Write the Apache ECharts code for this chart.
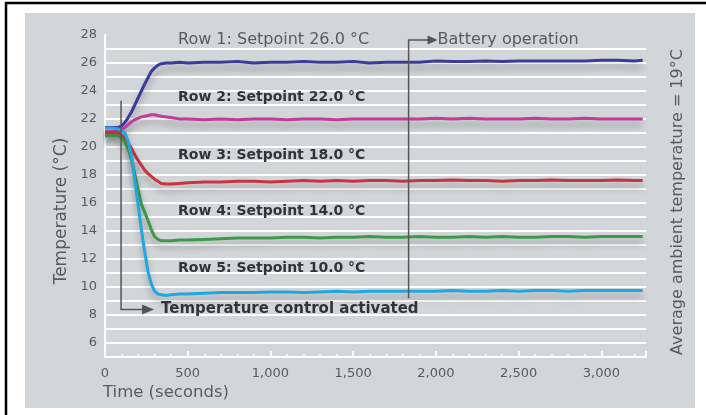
<!DOCTYPE html>
<html>
<head>
<meta charset="utf-8">
<script src="https://cdn.jsdelivr.net/npm/echarts@6/dist/echarts.min.js"></script>
<style>
  html, body { margin: 0; padding: 0; background: #fff; }
  #chart { width: 706px; height: 415px; }
</style>
</head>
<body>
<div id="chart"></div>
<script>
// time axis (seconds), shared by all rows
var times = [0, 40, 80, 100, 120, 140, 160, 180, 200, 220, 240, 260, 280, 300, 320, 340, 370, 400, 450, 500,
  600, 700, 800, 900, 1000, 1100, 1200, 1300, 1400, 1500, 1600, 1700, 1800, 1900, 2000, 2100, 2200, 2300,
  2400, 2500, 2600, 2700, 2800, 2900, 3000, 3100, 3200, 3250];

var row1 = [21.4, 21.4, 21.4, 21.5, 21.75, 22.1, 22.5, 23.0, 23.5, 24.0, 24.5, 24.95, 25.4, 25.65, 25.85, 25.95, 26.0, 26.0, 26.05, 26.0,
  26.05, 26.05, 26.1, 26.0, 26.05, 26.05, 26.1, 26.05, 26.05, 26.1, 26.0, 26.05, 26.05, 26.05, 26.15, 26.1, 26.1, 26.15,
  26.1, 26.15, 26.15, 26.15, 26.15, 26.15, 26.2, 26.2, 26.15, 26.2];
var row2 = [21.1, 21.1, 21.1, 21.2, 21.4, 21.6, 21.8, 21.95, 22.05, 22.15, 22.2, 22.25, 22.3, 22.3, 22.25, 22.2, 22.15, 22.1, 22.0, 22.0,
  21.95, 22.0, 21.95, 22.0, 22.0, 21.95, 22.0, 22.0, 21.95, 22.0, 22.0, 22.0, 22.0, 22.0, 22.05, 22.0, 22.05, 22.0,
  22.0, 22.0, 22.05, 22.0, 22.0, 22.05, 22.0, 22.0, 22.0, 22.0];
var row3 = [21.0, 21.0, 21.0, 20.85, 20.6, 20.3, 19.9, 19.45, 19.05, 18.7, 18.35, 18.1, 17.9, 17.7, 17.55, 17.4, 17.35, 17.35, 17.4, 17.45,
  17.5, 17.5, 17.55, 17.55, 17.5, 17.55, 17.6, 17.55, 17.6, 17.55, 17.6, 17.6, 17.55, 17.6, 17.6, 17.65, 17.6, 17.6,
  17.55, 17.6, 17.6, 17.65, 17.6, 17.6, 17.6, 17.65, 17.6, 17.6];
var row4 = [20.8, 20.8, 20.8, 20.65, 20.35, 19.85, 19.1, 18.1, 17.0, 15.9, 15.35, 14.75, 14.1, 13.6, 13.4, 13.3, 13.3, 13.3, 13.35, 13.35,
  13.4, 13.45, 13.5, 13.5, 13.5, 13.55, 13.55, 13.5, 13.55, 13.55, 13.6, 13.55, 13.55, 13.6, 13.55, 13.55, 13.6, 13.55,
  13.6, 13.55, 13.55, 13.6, 13.6, 13.55, 13.6, 13.6, 13.6, 13.6];
var row5 = [21.35, 21.35, 21.3, 21.2, 21.0, 20.4, 19.3, 17.6, 15.9, 14.1, 12.5, 11.1, 10.2, 9.7, 9.5, 9.45, 9.4, 9.45, 9.5, 9.5,
  9.55, 9.6, 9.6, 9.6, 9.65, 9.65, 9.6, 9.65, 9.7, 9.65, 9.7, 9.7, 9.7, 9.7, 9.7, 9.75, 9.7, 9.7,
  9.75, 9.7, 9.75, 9.75, 9.7, 9.75, 9.75, 9.75, 9.75, 9.75];

var rowNames = ['Row 1', 'Row 2', 'Row 3', 'Row 4', 'Row 5'];
var rowColors = ['#3b3b9c', '#c23c98', '#c9343f', '#3c9a48', '#1ea7e1'];
var rowLabels = ['Row 1: Setpoint 26.0 °C', 'Row 2: Setpoint 22.0 °C', 'Row 3: Setpoint 18.0 °C',
  'Row 4: Setpoint 14.0 °C', 'Row 5: Setpoint 10.0 °C'];

// events: [time, from value, to value]
var controlOn = [97, 23.3, 8.4];
var batteryOn = [1835, 9.2, 27.65];

var font = 'DejaVu Sans';
var grey = '#5a5a5a';
var dark = '#333';

function pairs(vals) {
  return times.map(function (t, i) { return [t, vals[i]]; });
}

var chart = echarts.init(document.getElementById('chart'));

var series = [row1, row2, row3, row4, row5].map(function (vals, i) {
  return {
    name: rowNames[i],
    type: 'line',
    data: pairs(vals),
    showSymbol: false,
    silent: true,
    z: 3,
    lineStyle: {
      color: rowColors[i], width: 3,
      shadowColor: 'rgba(60,60,60,0.4)', shadowBlur: 6, shadowOffsetY: 6
    }
  };
});

// no white line at the very top
var gridColors = [];
for (var v = 5; v <= 28; v++) gridColors.push(v === 28 ? 'rgba(0,0,0,0)' : '#fff');

chart.setOption({
  animation: false,
  backgroundColor: '#fff',
  grid: { left: 105, right: 60, top: 35, bottom: 58 },
  xAxis: {
    type: 'value', min: 0, max: 3270, interval: 500,
    axisLine: { lineStyle: { color: '#fff', width: 2 } },
    axisTick: { inside: true, length: 6, lineStyle: { color: '#fff', width: 2 } },
    minorTick: { show: true, splitNumber: 5, length: 3, lineStyle: { color: '#fff', width: 1.5 } },
    splitLine: { show: false },
    axisLabel: {
      margin: 10, color: grey, fontFamily: font, fontSize: 13,
      formatter: function (val) { return val % 500 === 0 ? val.toLocaleString('en-US') : ''; }
    }
  },
  yAxis: {
    type: 'value', min: 5, max: 28, interval: 1,
    axisLine: { show: true, lineStyle: { color: '#fff', width: 2 } },
    axisTick: { show: false },
    splitLine: { lineStyle: { color: gridColors, width: 2 } },
    axisLabel: {
      margin: 8, color: grey, fontFamily: font, fontSize: 13,
      formatter: function (val) { return (val % 2 === 0 && val >= 6) ? String(val) : ''; }
    }
  },
  series: series
});

function px(t, v) { return chart.convertToPixel({ gridIndex: 0 }, [t, v]); }

var labelY = [40, 97, 155, 211, 268];
var elements = [
  { type: 'rect', shape: { x: 25, y: 13, width: 670, height: 395 }, style: { fill: '#d3d6d9' }, z: -10, silent: true },
  { type: 'line', shape: { x1: 6, y1: 2, x2: 6, y2: 415 }, style: { stroke: '#000', lineWidth: 2.5 } },
  { type: 'line', shape: { x1: 5, y1: 3, x2: 706, y2: 3 }, style: { stroke: '#000', lineWidth: 2.5 } },
  { type: 'text', x: 103, y: 393, style: { text: 'Time (seconds)', fill: grey, font: '16.5px ' + font, textVerticalAlign: 'middle' } },
  { type: 'text', x: 62, y: 211, rotation: Math.PI / 2,
    style: { text: 'Temperature (°C)', fill: grey, font: '17px ' + font, textAlign: 'center', textVerticalAlign: 'middle' } },
  { type: 'text', x: 678, y: 202, rotation: Math.PI / 2,
    style: { text: 'Average ambient temperature = 19°C', fill: grey, font: '16px ' + font, textAlign: 'center', textVerticalAlign: 'middle' } }
];

rowLabels.forEach(function (txt, i) {
  elements.push({
    type: 'text', x: 178, y: labelY[i], z: 5,
    style: { text: txt, fill: i === 0 ? grey : dark, font: (i === 0 ? '16px ' : 'bold 14px ') + font, textVerticalAlign: 'middle' }
  });
});

// control activated arrow
var c1 = px(controlOn[0], controlOn[1]);
var c2 = px(controlOn[0], controlOn[2]);
elements.push(
  { type: 'polyline', z: 4, shape: { points: [c1, c2, [c2[0] + 22, c2[1]]] }, style: { stroke: '#555', lineWidth: 1.5, fill: null } },
  { type: 'polygon', z: 4, shape: { points: [[c2[0] + 21, c2[1] - 5], [c2[0] + 33, c2[1]], [c2[0] + 21, c2[1] + 5]] }, style: { fill: '#555' } },
  { type: 'text', x: c2[0] + 40, y: c2[1], z: 5, style: { text: 'Temperature control activated', fill: dark, font: 'bold 15px ' + font, textVerticalAlign: 'middle' } }
);

// battery operation arrow
var b1 = px(batteryOn[0], batteryOn[1]);
var b2 = px(batteryOn[0], batteryOn[2]);
elements.push(
  { type: 'polyline', z: 4, shape: { points: [b1, b2, [b2[0] + 20, b2[1]]] }, style: { stroke: '#555', lineWidth: 1.5, fill: null } },
  { type: 'polygon', z: 4, shape: { points: [[b2[0] + 19, b2[1] - 4.5], [b2[0] + 29, b2[1]], [b2[0] + 19, b2[1] + 4.5]] }, style: { fill: '#555' } },
  { type: 'text', x: b2[0] + 29, y: b2[1], z: 5, style: { text: 'Battery operation', fill: grey, font: '16px ' + font, textVerticalAlign: 'middle' } }
);

chart.setOption({ graphic: { elements: elements } });

window.addEventListener('resize', function () { chart.resize(); });
</script>
</body>
</html>
